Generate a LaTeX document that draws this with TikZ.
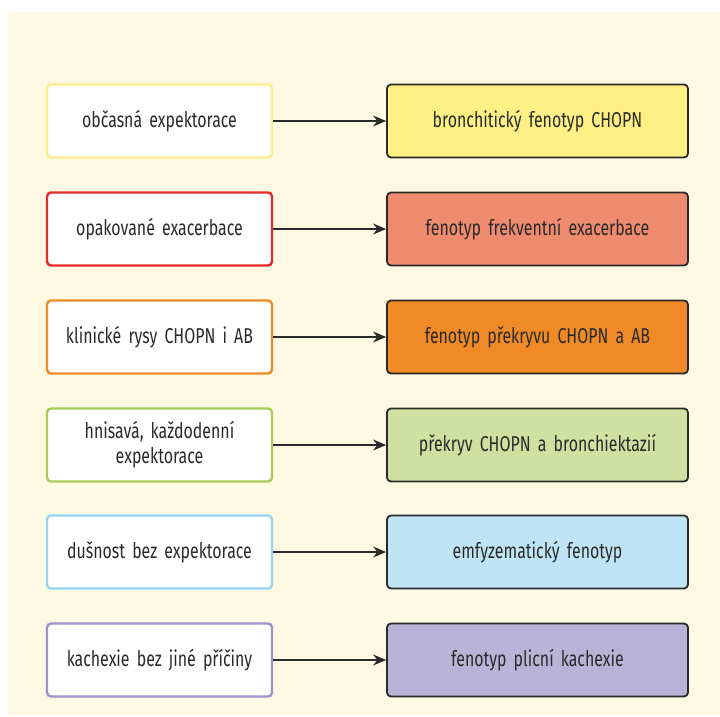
\documentclass[tikz,border=0pt]{standalone}
\usepackage{fontspec}
\setmainfont[FakeStretch=0.74]{Fira Sans}
\usetikzlibrary{arrows.meta}
\definecolor{bgc}{HTML}{FFF9E3}
\definecolor{txt}{HTML}{2A2A2A}
\definecolor{b1}{HTML}{FCEE8C}\definecolor{f1}{HTML}{FEF085}
\definecolor{b2}{HTML}{E32B2B}\definecolor{f2}{HTML}{EE8B6F}
\definecolor{b3}{HTML}{EF8A26}\definecolor{f3}{HTML}{EF8A26}
\definecolor{b4}{HTML}{A7CC5C}\definecolor{f4}{HTML}{D0E0A1}
\definecolor{b5}{HTML}{93D4EF}\definecolor{f5}{HTML}{BFE4F6}
\definecolor{b6}{HTML}{9D90CB}\definecolor{f6}{HTML}{BAB3D8}
\newcommand{\boxfont}{\fontsize{21.5}{25}\selectfont\spaceskip=5pt plus 1pt minus 1pt\relax}
\tikzset{
  srcbox/.style={draw=#1, line width=2.4pt, fill=white, rounded corners=4pt,
    minimum width=225pt, minimum height=73pt, text width=210pt, align=center,
    font=\boxfont, text=txt, inner sep=0pt},
  dstbox/.style={draw=txt, line width=1.8pt, fill=#1, rounded corners=4pt,
    minimum width=301pt, minimum height=73pt, text width=285pt, align=center,
    font=\boxfont, text=txt, inner sep=0pt},
  conn/.style={draw=txt, line width=1.3pt, -{Stealth[length=13pt,width=11pt]}}
}
\begin{document}
\begin{tikzpicture}[x=1pt,y=-1pt]
\useasboundingbox (0,0) rectangle (720,717);
\fill[white] (0,0) rectangle (720,717);
\fill[bgc] (8,12) rectangle (720,715);
\node[srcbox=b1] (s1) at (159.5,121) {občasná expektorace};
\node[srcbox=b2] (s2) at (159.5,229) {opakované exacerbace};
\node[srcbox=b3] (s3) at (159.5,337) {klinické rysy CHOPN i AB};
\node[srcbox=b4] (s4) at (159.5,445) {hnisavá, každodenní\\expektorace};
\node[srcbox=b5] (s5) at (159.5,552) {dušnost bez expektorace};
\node[srcbox=b6] (s6) at (159.5,660) {kachexie bez jiné příčiny};
\node[dstbox=f1] (d1) at (537.5,121) {bronchitický fenotyp CHOPN};
\node[dstbox=f2] (d2) at (537.5,229) {fenotyp frekventní exacerbace};
\node[dstbox=f3] (d3) at (537.5,337) {fenotyp překryvu CHOPN a AB};
\node[dstbox=f4] (d4) at (537.5,445) {překryv CHOPN a bronchiektazií};
\node[dstbox=f5] (d5) at (537.5,552) {emfyzematický fenotyp};
\node[dstbox=f6] (d6) at (537.5,660) {fenotyp plicní kachexie};
\foreach \i in {1,...,6} {\draw[conn] (s\i) -- (d\i);}
\end{tikzpicture}
\end{document}
